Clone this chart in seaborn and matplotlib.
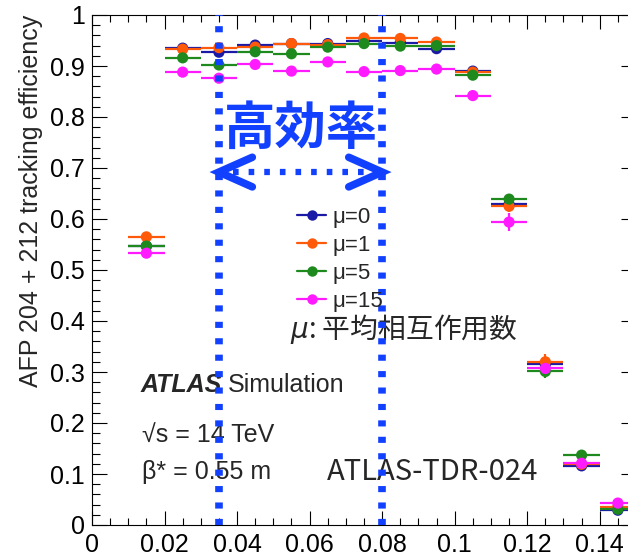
import numpy as np
import pandas as pd
import matplotlib
matplotlib.use("Agg")
import matplotlib.pyplot as plt
from matplotlib.lines import Line2D
from matplotlib.ticker import MultipleLocator, FuncFormatter
import seaborn as sns

# bin centres (width 0.01) and efficiencies per pile-up value
bin_x = [0.015, 0.025, 0.035, 0.045, 0.055, 0.065, 0.075,
         0.085, 0.095, 0.105, 0.115, 0.125, 0.135, 0.145]
eff_mu0 = [0.547, 0.935, 0.927, 0.941, 0.944, 0.944, 0.950,
           0.946, 0.934, 0.890, 0.629, 0.315, 0.116, 0.029]
eff_mu1 = [0.565, 0.933, 0.936, 0.937, 0.944, 0.942, 0.955,
           0.954, 0.947, 0.888, 0.625, 0.320, 0.119, 0.036]
eff_mu5 = [0.547, 0.916, 0.902, 0.928, 0.924, 0.937, 0.944,
           0.939, 0.940, 0.882, 0.639, 0.301, 0.137, 0.031]
eff_mu15 = [0.533, 0.888, 0.876, 0.903, 0.890, 0.908, 0.889,
            0.891, 0.894, 0.842, 0.594, 0.307, 0.121, 0.043]
err_mu0 = [0.006, 0.002, 0.002, 0.002, 0.002, 0.002, 0.002,
           0.002, 0.002, 0.004, 0.009, 0.011, 0.008, 0.004]
err_mu1 = [0.008, 0.003, 0.003, 0.003, 0.003, 0.003, 0.003,
           0.003, 0.003, 0.005, 0.012, 0.015, 0.009, 0.005]
err_mu5 = [0.008, 0.003, 0.003, 0.003, 0.003, 0.003, 0.003,
           0.003, 0.003, 0.005, 0.010, 0.013, 0.010, 0.005]
err_mu15 = [0.010, 0.004, 0.004, 0.004, 0.004, 0.004, 0.004,
            0.004, 0.004, 0.007, 0.018, 0.013, 0.009, 0.006]
bin_half = 0.005

series_labels = ["μ=0", "μ=1", "μ=5", "μ=15"]
series_colors = ["#1a1aa6", "#ff5a0a", "#1e8a1e", "#ff1aff"]
series_eff = [eff_mu0, eff_mu1, eff_mu5, eff_mu15]
series_err = [err_mu0, err_mu1, err_mu5, err_mu15]

cut_lo, cut_hi = 0.035, 0.08
blue = "#1240ff"

df = pd.concat([pd.DataFrame({"x": bin_x, "eff": e, "err": r, "mu": lab})
                for lab, e, r in zip(series_labels, series_eff, series_err)],
               ignore_index=True)

sns.set_style("ticks")
plt.rcParams["font.family"] = ["Liberation Sans", "DejaVu Sans"]
plt.rcParams["mathtext.fontset"] = "dejavusans"

fig = plt.figure(figsize=(6.28, 5.52), dpi=100)
ax = fig.add_axes([92 / 628, 27 / 552, 544 / 628, 510 / 552])

for lab, col in zip(series_labels, series_colors):
    sub = df[df["mu"] == lab]
    ax.errorbar(sub["x"], sub["eff"], xerr=bin_half, yerr=sub["err"],
                fmt="none", ecolor=col, elinewidth=1.6, capsize=0, zorder=2)
sns.scatterplot(data=df, x="x", y="eff", hue="mu", palette=series_colors,
                hue_order=series_labels, s=65, edgecolor="none",
                legend=False, ax=ax, zorder=3)

# high-efficiency region
for xc in (cut_lo, cut_hi):
    ax.axvline(xc, color=blue, lw=5.5, linestyle=(0, (0.8, 1.35)),
               solid_capstyle="butt", dash_capstyle="butt", zorder=4)
ay = 0.692
ax.plot([cut_lo + 0.004, cut_hi - 0.004], [ay, ay], color=blue, lw=4.5,
        linestyle=(0, (0.9, 1.6)), dash_capstyle="butt", zorder=4)
for tip, sgn in ((cut_lo, 1), (cut_hi, -1)):
    ax.plot([tip + sgn * 0.0092, tip, tip + sgn * 0.0092],
            [ay + 0.029, ay, ay - 0.029], color=blue, lw=5.5,
            solid_capstyle="round", solid_joinstyle="miter", zorder=4)
ax.text((cut_lo + cut_hi) / 2, 0.777, "高効率", color=blue, fontsize=37,
        fontweight="bold", ha="center", va="center",
        family=["Noto Sans CJK JP"], zorder=5)

ax.text(0.0545, 0.385, "$\\mu$: 平均相互作用数", fontsize=20,
        ha="left", va="center", family=["Noto Sans CJK JP", "DejaVu Sans"])
ax.text(0.0648, 0.104, "ATLAS-TDR-024", fontsize=21, ha="left",
        va="center", family=["Noto Sans CJK JP"])
ax.text(0.0133, 0.274, "ATLAS", fontsize=18, fontweight="bold",
        fontstyle="italic", ha="left", va="center")
ax.text(0.0375, 0.274, "Simulation", fontsize=18, ha="left", va="center")
ax.text(0.0139, 0.176, "√s = 14 TeV", fontsize=18, ha="left", va="center")
ax.text(0.0139, 0.104, "β* = 0.55 m", fontsize=18, ha="left", va="center")

handles = [Line2D([], [], color=c, lw=1.6, marker="o", markersize=7.5,
                  markeredgewidth=0) for c in series_colors]
ax.legend(handles, series_labels, loc="upper left",
          bbox_to_anchor=(0.377, 0.624), frameon=False, fontsize=16,
          handlelength=1.3, handletextpad=0.3, labelspacing=0.32,
          borderpad=0, borderaxespad=0)

ax.set_xlim(0, 0.15)
ax.set_ylim(0, 1)
ax.set_xlabel("")
ax.set_ylabel("")
ax.xaxis.set_major_locator(MultipleLocator(0.02))
ax.xaxis.set_minor_locator(MultipleLocator(0.005))
ax.yaxis.set_major_locator(MultipleLocator(0.1))
ax.yaxis.set_minor_locator(MultipleLocator(0.02))
fmt = FuncFormatter(lambda v, p: "%g" % round(v, 3))
ax.xaxis.set_major_formatter(fmt)
ax.yaxis.set_major_formatter(fmt)
ax.tick_params(which="both", direction="in", top=True, right=True,
               width=0.8, colors="black", labelsize=18)
ax.tick_params(axis="x", which="major", length=10, pad=6)
ax.tick_params(axis="x", which="minor", length=5)
ax.tick_params(axis="y", which="major", length=11, pad=5)
ax.tick_params(axis="y", which="minor", length=5.5)
for sp in ax.spines.values():
    sp.set_linewidth(0.8)
    sp.set_color("black")

fig.text(31 / 628, 1 - 15 / 552, "AFP 204 + 212 tracking efficiency",
         rotation=90, ha="center", va="top", fontsize=18)

fig.savefig("out.png", dpi=100)
plt.close(fig)
